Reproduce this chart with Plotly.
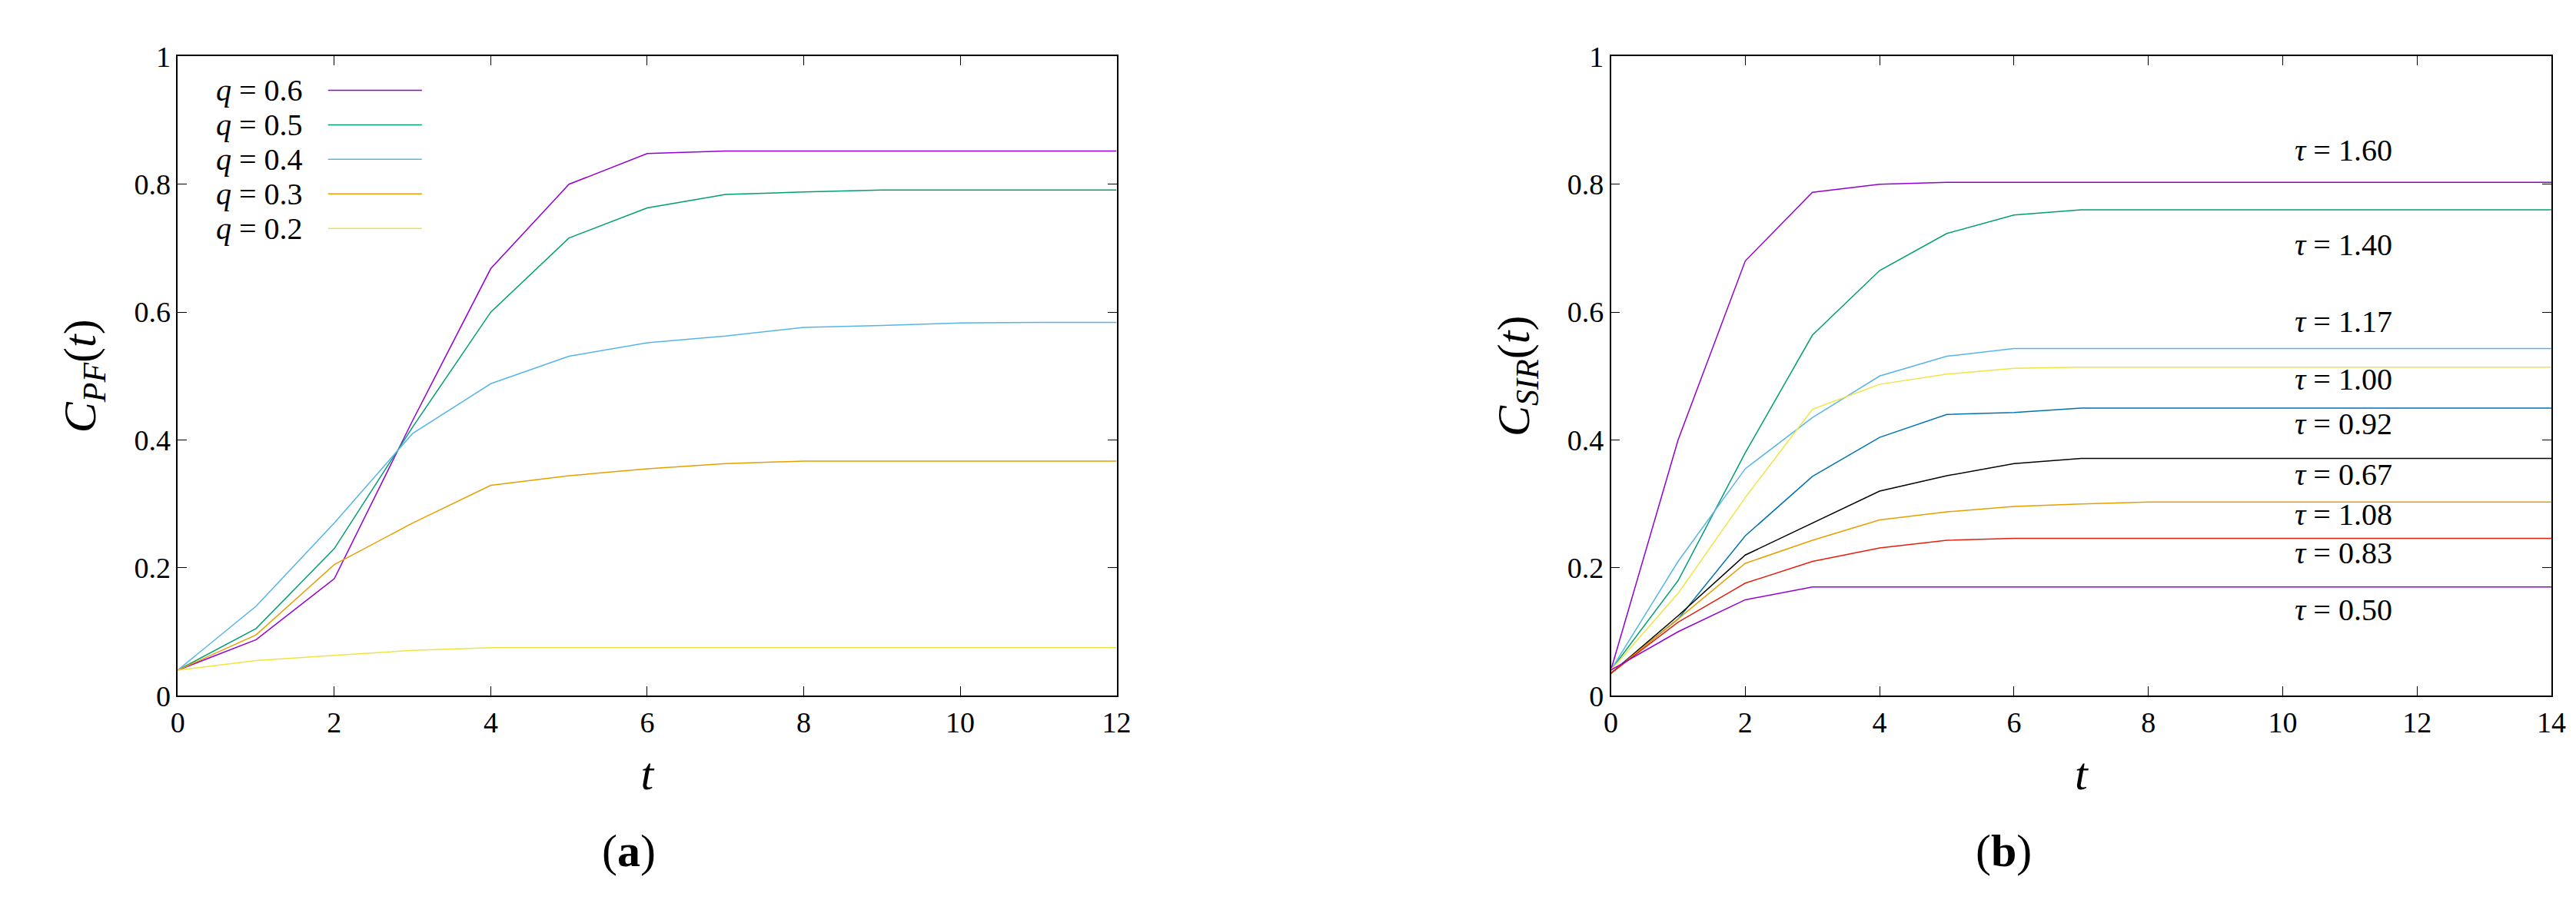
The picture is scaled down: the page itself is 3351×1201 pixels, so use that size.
import plotly.graph_objects as go

# panel (a): C_PF(t)
t_a = list(range(13))
q_labels = ["0.6", "0.5", "0.4", "0.3", "0.2"]
q_colors = ["#9400d3", "#009e73", "#56b4e9", "#e69f00", "#f0e442"]
c_pf = [
    [0.04, 0.0875, 0.183, 0.43, 0.668, 0.80, 0.848, 0.852, 0.852, 0.852, 0.852, 0.852, 0.852],
    [0.04, 0.105, 0.23, 0.42, 0.60, 0.716, 0.763, 0.784, 0.788, 0.791, 0.791, 0.791, 0.791],
    [0.04, 0.14, 0.27, 0.41, 0.488, 0.531, 0.552, 0.5625, 0.576, 0.579, 0.583, 0.584, 0.584],
    [0.04, 0.095, 0.205, 0.27, 0.329, 0.344, 0.355, 0.363, 0.367, 0.367, 0.367, 0.367, 0.367],
    [0.04, 0.055, 0.063, 0.071, 0.075, 0.075, 0.075, 0.075, 0.075, 0.075, 0.075, 0.075, 0.075],
]

# panel (b): C_SIR(t)
t_b = list(range(15))
tau_labels = ["1.60", "1.40", "1.17", "1.00", "0.92", "0.67", "1.08", "0.83", "0.50"]
tau_colors = ["#9400d3", "#009e73", "#56b4e9", "#f0e442", "#0072b2", "#000000", "#e69f00", "#e51e10", "#9400d3"]
tau_label_y = [0.853, 0.705, 0.585, 0.495, 0.425, 0.346, 0.283, 0.223, 0.134]
def flat(start, level):
    return start + [level] * (15 - len(start))
c_sir = [
    flat([0.04, 0.40, 0.68, 0.7875, 0.80], 0.803),
    flat([0.04, 0.18, 0.38, 0.564, 0.665, 0.723, 0.752], 0.76),
    flat([0.04, 0.21, 0.355, 0.435, 0.50, 0.531], 0.543),
    flat([0.04, 0.16, 0.31, 0.448, 0.487, 0.503, 0.512], 0.514),
    flat([0.035, 0.12, 0.25, 0.343, 0.404, 0.44, 0.443], 0.45),
    flat([0.035, 0.125, 0.22, 0.27, 0.32, 0.344, 0.363], 0.371),
    flat([0.035, 0.12, 0.207, 0.243, 0.275, 0.2875, 0.296, 0.30], 0.303),
    flat([0.035, 0.115, 0.176, 0.21, 0.231, 0.243], 0.246),
    flat([0.04, 0.10, 0.15], 0.17),
]

font = "Liberation Serif"
fig = go.Figure()
for lab, col, ys in zip(q_labels, q_colors, c_pf):
    fig.add_trace(go.Scatter(x=t_a, y=ys, mode="lines", line=dict(color=col, width=1.5),
                             xaxis="x", yaxis="y", showlegend=False))
for lab, col, ys in zip(tau_labels, tau_colors, c_sir):
    fig.add_trace(go.Scatter(x=t_b, y=ys, mode="lines", line=dict(color=col, width=1.5),
                             xaxis="x2", yaxis="y2", showlegend=False))

ann = []
shapes = []
# legend of panel (a)
for i, (lab, col) in enumerate(zip(q_labels, q_colors)):
    yy = 0.947 - i * 0.054
    ann.append(dict(xref="x domain", yref="y domain", x=0.135, y=yy, xanchor="right", yanchor="middle",
                    text="<i>q</i> = " + lab, showarrow=False, font=dict(size=40, family=font)))
    shapes.append(dict(type="line", xref="x domain", yref="y domain", x0=0.16, x1=0.26, y0=yy, y1=yy,
                       line=dict(color=col, width=1.5)))
for lab, yy in zip(tau_labels, tau_label_y):
    ann.append(dict(xref="x2", yref="y2", x=10.9, y=yy, xanchor="center", yanchor="middle",
                    text="<i>τ</i> = " + lab, showarrow=False, font=dict(size=40, family=font)))
ann.append(dict(xref="paper", yref="paper", x=0.23, y=0.04, text="(<b>a</b>)", showarrow=False,
                font=dict(size=60, family=font)))
ann.append(dict(xref="paper", yref="paper", x=0.791, y=0.04, text="(<b>b</b>)", showarrow=False,
                font=dict(size=60, family=font)))

ax = dict(showline=True, mirror="ticks", linecolor="black", linewidth=1.5, ticks="inside", ticklen=12,
          tickcolor="black", showgrid=False, zeroline=False, tickfont=dict(size=38, family=font),
          title_font=dict(size=60, family=font))
fig.update_layout(
    width=3351, height=1201, margin=dict(l=0, r=0, t=0, b=0),
    plot_bgcolor="white", paper_bgcolor="white",
    font=dict(color="black", family=font),
    xaxis=dict(ax, domain=[0.0645, 0.432], range=[0, 12], dtick=2, title_text="<i>t</i>", anchor="y"),
    yaxis=dict(ax, domain=[0.244, 0.9617], range=[0, 1], dtick=0.2, title_text="<i>C<sub>PF</sub></i>(<i>t</i>)", anchor="x"),
    xaxis2=dict(ax, domain=[0.6255, 0.9937], range=[0, 14], dtick=2, title_text="<i>t</i>", anchor="y2"),
    yaxis2=dict(ax, domain=[0.244, 0.9617], range=[0, 1], dtick=0.2, title_text="<i>C<sub>SIR</sub></i>(<i>t</i>)", anchor="x2"),
    annotations=ann, shapes=shapes,
)
fig.update_yaxes(tickvals=[0, 0.2, 0.4, 0.6, 0.8, 1], ticktext=["0", "0.2", "0.4", "0.6", "0.8", "1"],
                 title_standoff=30)
fig.update_xaxes(title_standoff=25)
fig.write_html("out.html")
